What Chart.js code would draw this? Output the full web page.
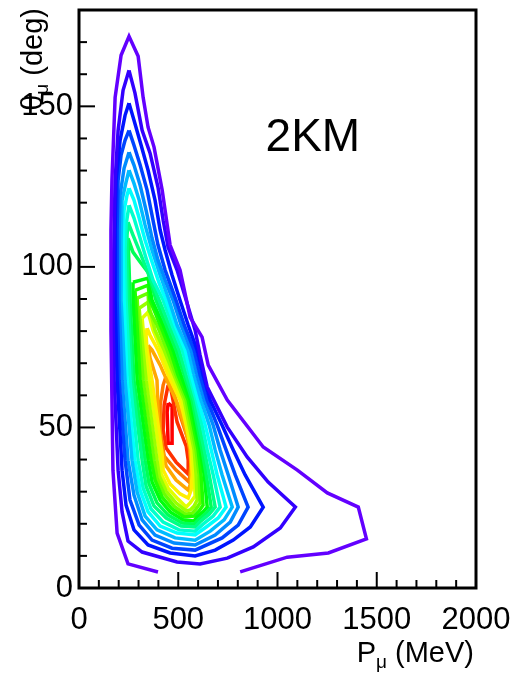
<!DOCTYPE html>
<html>
<head>
<meta charset="utf-8">
<script src="https://cdn.jsdelivr.net/npm/chart.js@4.4.1/dist/chart.umd.min.js"></script>
<style>
  html, body { margin: 0; padding: 0; background: #fff; }
</style>
</head>
<body>
<canvas id="contourChart" width="512" height="674"></canvas>
<script>
// Contour lines of the muon (P, theta) distribution, outermost level first.
// Each point is [P_mu (MeV), theta_mu (deg)].
const level1 = [[812,5.0],[1049,9.6],[1256,10.9],[1448,15.3],[1407,25.2],[1251,29.6],[1100,36.7],[928,43.9],[747,58.5],[651,69.4],[620,78.1],[560,84.3],[509,99.0],[459,106.8],[419,123.9],[378,137.3],[348,143.5],[323,152.8],[298,165.6],[252,171.8],[212,165.9],[182,152.8],[166,127.0],[161,111.4],[161,80.3],[171,36.7],[192,17.1],[247,7.5],[398,5.0]];
const level2 = [[252,161.2],[282,154.1],[318,142.5],[358,135.4],[398,124.8],[424,114.5],[449,106.1],[494,99.0],[540,89.6],[585,80.3],[610,72.5],[646,62.6],[747,50.1],[847,40.8],[953,33.0],[1090,25.2],[1014,18.7],[878,12.8],[747,9.3],[610,7.5],[494,8.1],[318,11.2],[247,14.6],[217,23.7],[197,36.7],[177,64.7],[171,89.6],[177,111.4],[182,127.0],[197,142.5],[222,155.0]];
const level3 = [[252,151.0],[277,145.7],[313,137.9],[348,130.1],[383,120.8],[409,111.4],[434,105.2],[469,97.4],[509,89.6],[550,81.9],[595,74.1],[625,66.3],[661,58.5],[721,50.7],[777,43.0],[837,35.2],[928,25.2],[863,19.0],[777,14.9],[686,11.8],[585,10.0],[459,10.9],[348,13.4],[277,18.1],[237,25.8],[217,36.7],[192,64.7],[182,89.6],[182,111.4],[187,127.0],[207,139.4],[232,147.2]];
const level4 = [[252,142.5],[277,137.9],[308,131.7],[343,123.9],[373,114.5],[398,106.8],[434,99.0],[489,89.6],[530,81.9],[580,74.1],[610,66.3],[646,58.5],[696,50.7],[741,43.0],[787,35.2],[852,25.2],[802,19.6],[721,15.6],[585,11.8],[469,12.4],[368,14.9],[303,19.6],[257,27.4],[232,39.8],[202,64.7],[192,89.6],[192,111.4],[197,127.0],[212,134.8],[232,139.4]];
const level5 = [[252,135.7],[277,131.7],[308,125.4],[338,117.6],[368,108.9],[398,102.1],[434,95.9],[474,89.6],[514,81.9],[565,74.1],[595,66.3],[631,58.5],[676,50.7],[711,43.0],[752,35.2],[802,25.2],[762,20.5],[686,16.5],[585,13.4],[479,14.0],[383,16.5],[318,21.2],[277,28.9],[247,39.8],[217,64.7],[202,89.6],[202,111.4],[207,122.3],[227,130.7]];
const level6 = [[252,130.1],[277,126.0],[303,120.8],[333,113.0],[368,105.2],[409,97.4],[454,89.6],[494,81.9],[550,74.1],[580,66.3],[615,58.5],[656,50.7],[686,43.0],[721,35.2],[772,25.2],[731,21.2],[661,17.7],[585,14.9],[484,15.6],[393,18.1],[333,22.4],[293,29.9],[267,39.8],[232,64.7],[212,89.6],[212,108.3],[217,120.8],[237,126.4]];
const level7 = [[252,124.5],[277,120.8],[303,115.2],[333,108.3],[368,101.5],[404,94.9],[439,89.6],[484,81.9],[535,74.1],[565,66.3],[600,58.5],[636,50.7],[666,43.0],[696,35.2],[741,25.2],[701,21.8],[641,19.0],[585,16.5],[494,17.1],[409,19.3],[348,23.7],[308,30.5],[282,39.8],[242,64.7],[227,89.6],[222,105.2],[227,117.6],[242,122.3]];
const level8 = [[252,119.2],[277,115.2],[303,109.9],[338,102.7],[373,95.9],[424,89.6],[469,81.9],[520,74.1],[555,66.3],[590,58.5],[620,50.7],[646,43.0],[676,35.2],[711,25.2],[676,22.4],[625,19.9],[585,17.7],[504,18.1],[424,20.5],[363,24.6],[323,31.1],[298,39.8],[257,64.7],[237,89.6],[232,105.2],[237,113.0]];
const level9 = [[247,113.9],[272,109.9],[303,105.2],[338,99.6],[373,94.3],[404,89.6],[454,81.9],[504,74.1],[540,66.3],[580,58.5],[605,50.7],[631,43.0],[656,35.2],[686,25.2],[656,23.0],[615,20.9],[585,19.0],[514,19.3],[439,21.8],[378,25.5],[338,31.7],[318,39.8],[267,64.7],[247,89.6],[242,102.1],[242,109.9]];
const level10 = [[247,108.9],[272,104.6],[308,101.5],[348,98.3],[388,89.6],[439,81.9],[489,74.1],[530,66.3],[570,58.5],[595,50.7],[620,43.0],[641,35.2],[666,25.2],[641,23.3],[605,21.5],[580,19.9],[520,20.2],[449,22.7],[393,26.5],[353,32.4],[333,39.8],[277,64.7],[257,89.6],[252,100.5]];
const level11 = [[272,95.2],[348,96.5],[368,89.6],[424,81.9],[474,74.1],[514,66.3],[560,58.5],[585,50.7],[610,43.0],[631,35.2],[646,25.2],[625,23.7],[595,22.1],[580,20.9],[525,21.2],[459,23.7],[409,27.4],[368,33.0],[348,39.8],[293,64.7],[272,89.6]];
const level12 = [[282,92.7],[348,94.3],[358,89.6],[409,81.9],[459,74.1],[499,66.3],[550,58.5],[575,50.7],[600,43.0],[615,35.2],[625,25.8],[605,24.0],[580,22.4],[530,22.1],[469,24.6],[419,28.3],[383,33.6],[363,39.8],[308,64.7],[288,86.5]];
const level13 = [[293,90.3],[348,91.8],[353,86.5],[393,81.9],[444,74.1],[489,66.3],[540,58.5],[565,50.7],[590,43.0],[605,35.2],[610,26.5],[590,24.6],[570,23.3],[535,23.0],[479,25.5],[429,29.3],[393,34.2],[378,39.8],[323,64.7],[298,83.4]];
const level14 = [[303,87.1],[348,89.0],[383,80.3],[429,74.1],[479,66.3],[530,58.5],[555,50.7],[580,43.0],[590,35.2],[595,27.4],[580,25.5],[560,24.3],[540,24.0],[489,26.5],[439,30.2],[404,34.9],[393,39.8],[338,64.7],[313,80.3]];
const level15 = [[318,84.0],[348,85.9],[373,80.3],[414,74.1],[464,66.3],[520,58.5],[545,50.7],[570,43.0],[580,35.2],[585,28.6],[560,26.5],[540,25.2],[499,27.7],[449,31.1],[414,35.5],[409,39.8],[353,64.7],[328,77.2]];
const level16 = [[343,80.9],[358,78.7],[398,74.1],[449,66.3],[509,58.5],[540,50.7],[565,43.0],[570,35.2],[565,30.5],[550,28.0],[509,29.3],[459,32.4],[424,36.7],[419,41.4],[368,64.7],[343,74.1],[338,78.7]];
const level17 = [[348,75.6],[368,74.1],[409,69.4],[449,63.8],[499,57.0],[535,49.8],[560,43.0],[565,36.7],[560,32.1],[550,30.5],[489,33.6],[439,38.0],[414,44.5],[398,55.4],[393,64.7],[358,71.6]];
const level18 = [[439,66.0],[469,62.9],[509,53.8],[550,46.1],[565,39.2],[555,33.0],[489,36.7],[429,41.1],[409,49.2],[409,57.0],[424,63.2]];
const level19 = [[449,63.2],[464,61.6],[494,51.7],[540,44.2],[550,39.8],[550,35.5],[489,39.2],[439,43.6],[424,49.2],[429,57.0]];
const level20 = [[449,57.6],[469,56.6],[469,45.1],[449,45.1],[444,54.8]];

const levels = [level1, level2, level3, level4, level5, level6, level7, level8, level9, level10,
                level11, level12, level13, level14, level15, level16, level17, level18, level19, level20];

// violet -> red spectrum, one colour per level
const levelColors = ['rgb(99,0,255)', 'rgb(51,0,255)', 'rgb(0,20,255)', 'rgb(0,68,255)', 'rgb(0,139,255)',
                     'rgb(0,187,255)', 'rgb(0,255,252)', 'rgb(0,255,204)', 'rgb(0,255,133)', 'rgb(0,255,85)',
                     'rgb(0,255,14)', 'rgb(34,255,0)', 'rgb(105,255,0)', 'rgb(153,255,0)', 'rgb(224,255,0)',
                     'rgb(255,238,0)', 'rgb(255,167,0)', 'rgb(255,119,0)', 'rgb(255,48,0)', 'rgb(255,0,0)'];

// the outermost level is cut by the edge of the histogram, the others close on themselves
const openLevels = [0];

const xTicks = [0, 500, 1000, 1500, 2000];
const yTicks = [0, 50, 100, 150];
const xMinorStep = 100;
const yMinorStep = 10;
const plotLabel = '2KM';

const FONT = '"Liberation Sans", Arial, Helvetica, sans-serif';

const datasets = levels.map((lvl, i) => {
    const pts = lvl.map(([x, y]) => ({ x, y }));
    if (!openLevels.includes(i)) pts.push(pts[0]);
    return {
        data: pts,
        showLine: true,
        borderColor: levelColors[i],
        borderWidth: 3.5,
        pointRadius: 0,
        fill: false,
        tension: 0
    };
});

// frame, inside tick marks, axis titles and the label
const rootFrame = {
    id: 'rootFrame',
    afterDraw(chart) {
        const { ctx, chartArea: a, scales: { x, y } } = chart;
        ctx.save();
        ctx.strokeStyle = '#000';
        ctx.lineWidth = 2;

        for (let v = x.min; v <= x.max; v += xMinorStep) {
            const px = x.getPixelForValue(v);
            const len = xTicks.includes(v) ? 16 : 8;
            ctx.beginPath();
            ctx.moveTo(px, a.bottom);
            ctx.lineTo(px, a.bottom - len);
            ctx.stroke();
        }
        for (let v = y.min; v <= y.max; v += yMinorStep) {
            const py = y.getPixelForValue(v);
            const len = yTicks.includes(v) ? 16 : 8;
            ctx.beginPath();
            ctx.moveTo(a.left, py);
            ctx.lineTo(a.left + len, py);
            ctx.stroke();
        }

        ctx.lineWidth = 3;
        ctx.strokeRect(a.left, a.top, a.right - a.left, a.bottom - a.top);

        ctx.fillStyle = '#000';
        ctx.textBaseline = 'alphabetic';

        // x title: P_mu (MeV), right aligned with the axis end
        const big = '29px ' + FONT, small = '19px ' + FONT;
        ctx.font = big;
        const wP = ctx.measureText('P').width;
        const wRest = ctx.measureText(' (MeV)').width;
        ctx.font = small;
        const wMu = ctx.measureText('\u03bc').width;
        let xs = a.right - 2 - (wP + wMu + wRest);
        const base = 662;
        ctx.font = big; ctx.fillText('P', xs, base); xs += wP;
        ctx.font = small; ctx.fillText('\u03bc', xs, base + 6); xs += wMu;
        ctx.font = big; ctx.fillText(' (MeV)', xs, base);

        // y title: theta_mu (deg), rotated, right aligned with the axis top
        ctx.save();
        ctx.translate(42, 0);
        ctx.rotate(-Math.PI / 2);
        ctx.font = big;
        const wT = ctx.measureText('\u03b8').width;
        const wD = ctx.measureText(' (deg)').width;
        ctx.font = small;
        const wM = ctx.measureText('\u03bc').width;
        let ys = -a.top + 2 - (wT + wM + wD);
        ctx.font = big; ctx.fillText('\u03b8', ys, 0); ys += wT;
        ctx.font = small; ctx.fillText('\u03bc', ys, 6); ys += wM;
        ctx.font = big; ctx.fillText(' (deg)', ys, 0);
        ctx.restore();

        ctx.font = '46px ' + FONT;
        ctx.fillText(plotLabel, x.getPixelForValue(940), y.getPixelForValue(136));
        ctx.restore();
    }
};

new Chart(document.getElementById('contourChart').getContext('2d'), {
    type: 'scatter',
    data: { datasets },
    options: {
        responsive: false,
        animation: false,
        devicePixelRatio: 1,
        layout: { padding: { left: 0, right: 36, top: 10, bottom: 0 } },
        plugins: { legend: { display: false }, tooltip: { enabled: false } },
        scales: {
            x: {
                type: 'linear', min: 0, max: 2000,
                grid: { display: false, drawTicks: false },
                border: { display: false },
                afterBuildTicks: s => { s.ticks = xTicks.map(v => ({ value: v })); },
                afterFit: s => { s.height = 86; s.paddingLeft = 0; s.paddingRight = 0; },
                ticks: { color: '#000', padding: 14, maxRotation: 0, autoSkip: false,
                         callback: v => String(v), font: { family: FONT, size: 31 } }
            },
            y: {
                type: 'linear', min: 0, max: 180,
                grid: { display: false, drawTicks: false },
                border: { display: false },
                afterBuildTicks: s => { s.ticks = yTicks.map(v => ({ value: v })); },
                afterFit: s => { s.width = 79; s.paddingTop = 0; s.paddingBottom = 0; },
                ticks: { color: '#000', padding: 6, autoSkip: false,
                         callback: v => String(v), font: { family: FONT, size: 31 } }
            }
        }
    },
    plugins: [rootFrame]
});
</script>
</body>
</html>
